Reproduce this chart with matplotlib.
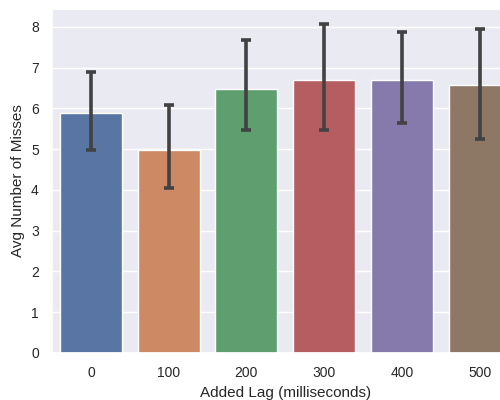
import numpy as np
import matplotlib
matplotlib.use("Agg")
import matplotlib.pyplot as plt
import seaborn as sns

# data
lags = ["0", "100", "200", "300", "400", "500"]
avg_misses = [5.9, 4.97, 6.48, 6.71, 6.69, 6.57]
ci_low = [4.99, 4.06, 5.46, 5.46, 5.65, 5.24]
ci_high = [6.90, 6.09, 7.68, 8.07, 7.87, 7.96]

sns.set_theme(style="darkgrid")
plt.rcParams['font.family'] = ['Liberation Sans', 'DejaVu Sans']

fig = plt.figure(figsize=(5, 4), dpi=100)
# axes runs a little past the right edge, as in the cropped original
ax = fig.add_axes([0.104, 0.1175, 0.933, 0.86])

colors = [sns.desaturate(c, 0.75) for c in sns.color_palette("deep", len(lags))]
x = np.arange(len(lags))
ax.bar(x, avg_misses, width=0.8, color=colors, edgecolor="white", linewidth=1)

y = np.array(avg_misses)
err = [y - np.array(ci_low), np.array(ci_high) - y]
ax.errorbar(x, y, yerr=err, fmt="none", ecolor=".26", elinewidth=2.6,
            capsize=3.4, capthick=2.6)

ax.set_xticks(x)
ax.set_xticklabels(lags)
ax.set_xlim(-0.5, 5.5)
ax.set_ylim(0, 8.44)
ax.set_yticks(range(0, 9))
ax.xaxis.grid(False)
ax.tick_params(labelsize=10)
ax.set_xlabel("Added Lag (milliseconds)", fontsize=11)
ax.set_ylabel("Avg Number of Misses", fontsize=11)

fig.savefig("out.png", dpi=100)
